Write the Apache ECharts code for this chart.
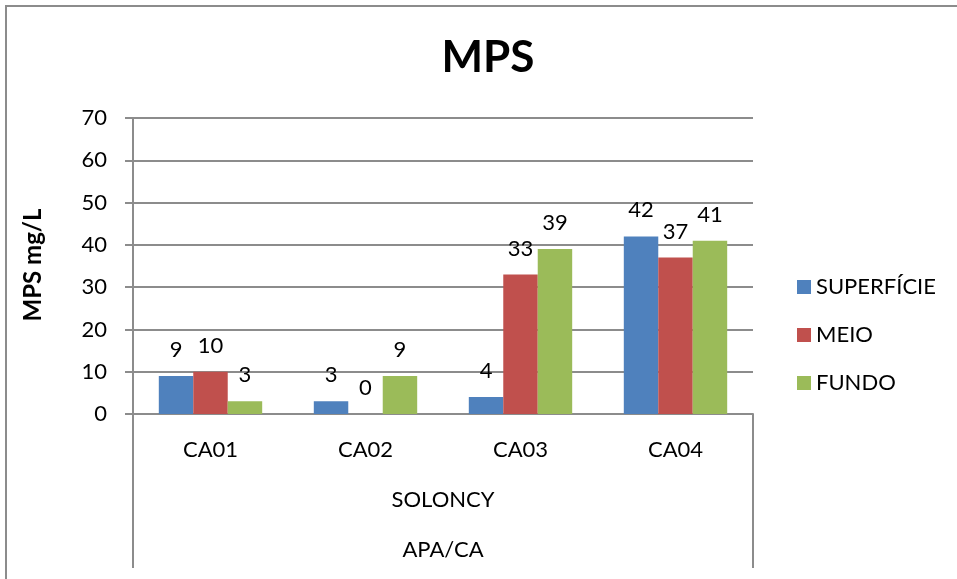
<!DOCTYPE html>
<html>
<head>
<meta charset="utf-8">
<script src="https://cdn.jsdelivr.net/npm/echarts@6/dist/echarts.min.js"></script>
<style>
  html, body { margin: 0; padding: 0; background: #fff; }
  #chart { width: 957px; height: 579px; }
</style>
</head>
<body>
<div id="chart"></div>
<script>
// Sampling points and depth layers
const categories = ['CA01', 'CA02', 'CA03', 'CA04'];
const superficie = [9, 3, 4, 42];
const meio = [10, 0, 33, 37];
const fundo = [3, 9, 39, 41];
const seriesNames = ['SUPERFÍCIE', 'MEIO', 'FUNDO'];
const yTicks = { min: 0, max: 70, interval: 10 };
const groupLabel = 'SOLONCY';
const outerLabel = 'APA/CA';

const FONT = 'Lato, "Liberation Sans", sans-serif';
const FS = 22;
const GRID = '#8c8c8c';
const colors = ['#4F81BD', '#C0504D', '#9BBB59'];

const chart = echarts.init(document.getElementById('chart'), null, { renderer: 'canvas' });

const plot = { left: 133, right: 753, top: 118, bottom: 414 };

function barSeries(name, data, color) {
  return {
    name: name,
    type: 'bar',
    data: data,
    barGap: '0%',
    barCategoryGap: '33.3%',
    itemStyle: { color: color },
    label: {
      show: true,
      position: 'top',
      distance: 15,
      color: '#000',
      fontFamily: FONT,
      fontSize: FS
    }
  };
}

chart.setOption({
  animation: false,
  textStyle: { fontFamily: FONT },
  grid: {
    left: plot.left,
    right: 957 - plot.right,
    top: plot.top,
    bottom: 579 - plot.bottom,
    containLabel: false
  },
  legend: {
    orient: 'vertical',
    left: 797,
    top: 276,
    padding: 0,
    itemWidth: 14,
    itemHeight: 14,
    itemGap: 26,
    itemTextGap: 7,
    icon: 'rect',
    data: seriesNames,
    textStyle: { fontFamily: FONT, fontSize: FS, color: '#000', lineHeight: 22 }
  },
  xAxis: {
    type: 'category',
    data: categories,
    axisLine: { show: true, lineStyle: { color: GRID, width: 2 } },
    axisTick: { show: false },
    axisLabel: { color: '#000', fontFamily: FONT, fontSize: FS, margin: 25 }
  },
  yAxis: {
    type: 'value',
    min: yTicks.min,
    max: yTicks.max,
    interval: yTicks.interval,
    axisLine: { show: true, lineStyle: { color: GRID, width: 2 } },
    axisTick: { show: true, length: 8, lineStyle: { color: GRID, width: 2 } },
    splitLine: { show: true, lineStyle: { color: GRID, width: 2 } },
    axisLabel: { color: '#000', fontFamily: FONT, fontSize: FS, margin: 26 }
  },
  series: [
    barSeries(seriesNames[0], superficie, colors[0]),
    barSeries(seriesNames[1], meio, colors[1]),
    barSeries(seriesNames[2], fundo, colors[2])
  ],
  graphic: [
    // chart area border
    { type: 'rect', shape: { x: 6, y: 6, width: 1200, height: 1200 },
      style: { fill: 'none', stroke: '#8c8c8c', lineWidth: 2 }, silent: true },
    // title
    { type: 'text', x: 488, y: 58,
      style: { text: 'MPS', fontFamily: FONT, fontWeight: 'bold', fontSize: 44,
               fill: '#000', textAlign: 'center', textVerticalAlign: 'middle' } },
    // value axis title
    { type: 'text', x: 33, y: 265, rotation: Math.PI / 2,
      style: { text: 'MPS mg/L', fontFamily: FONT, fontWeight: 'bold', fontSize: 24,
               fill: '#000', textAlign: 'center', textVerticalAlign: 'middle' } },
    // multi-level category frame
    { type: 'line', shape: { x1: plot.left, y1: plot.bottom, x2: plot.left, y2: 568 },
      style: { stroke: GRID, lineWidth: 2 } },
    { type: 'line', shape: { x1: plot.right, y1: plot.bottom, x2: plot.right, y2: 568 },
      style: { stroke: GRID, lineWidth: 2 } },
    // group labels
    { type: 'text', x: (plot.left + plot.right) / 2, y: 500,
      style: { text: groupLabel, fontFamily: FONT, fontSize: FS, fill: '#000',
               textAlign: 'center', textVerticalAlign: 'middle' } },
    { type: 'text', x: (plot.left + plot.right) / 2, y: 550,
      style: { text: outerLabel, fontFamily: FONT, fontSize: FS, fill: '#000',
               textAlign: 'center', textVerticalAlign: 'middle' } }
  ]
});
</script>
</body>
</html>
